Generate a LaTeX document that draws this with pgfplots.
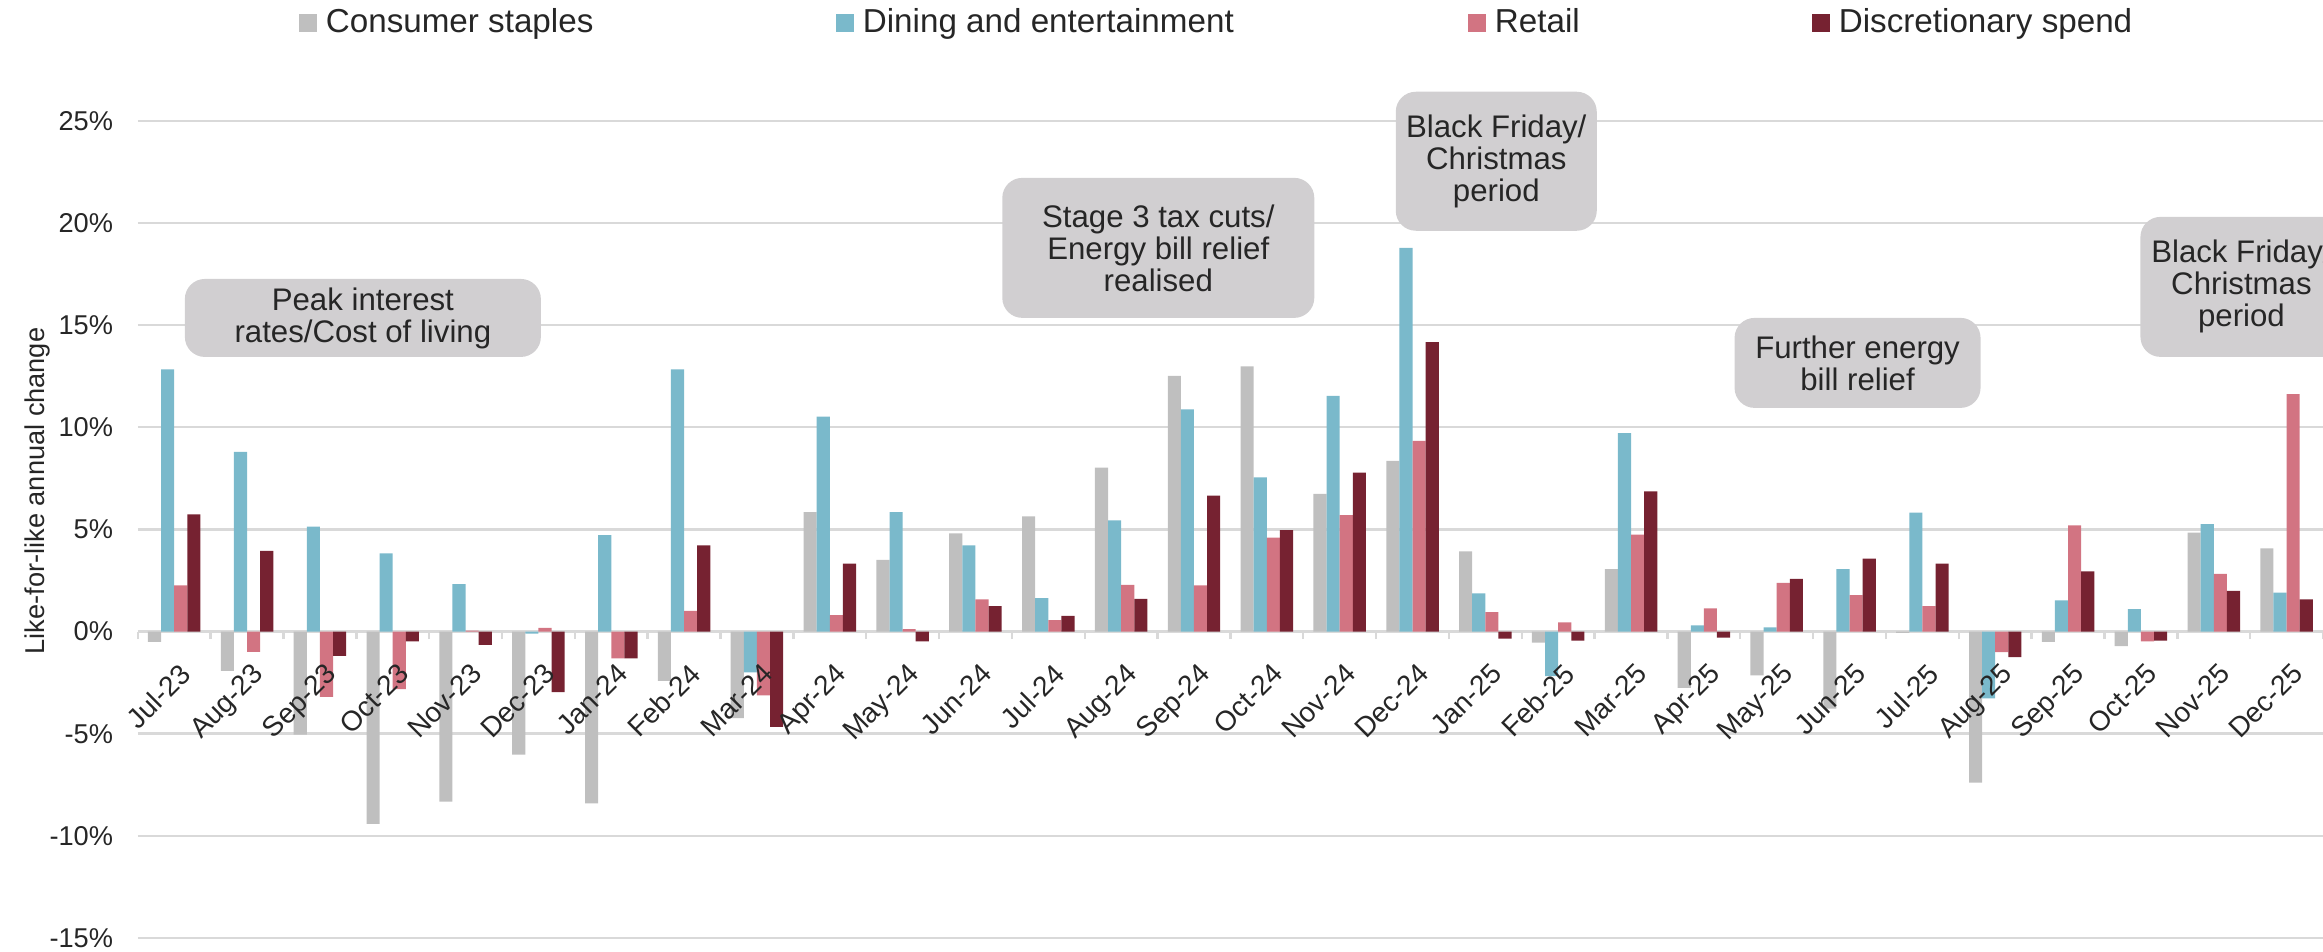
\documentclass[border=0pt]{standalone}
\usepackage{pgfplots}
\pgfplotsset{compat=1.18}
\usepackage{pgfplotstable}
\usepackage{fontspec}
\setmainfont{Liberation Sans}
\definecolor{cgrey}{HTML}{BFBFBF}
\definecolor{cblue}{HTML}{7AB9CB}
\definecolor{cpink}{HTML}{D27482}
\definecolor{cdark}{HTML}{762231}
\definecolor{gridc}{HTML}{D9D9D9}
\definecolor{boxc}{HTML}{D1CFD1}
\definecolor{txt}{HTML}{262626}

\pgfplotstableread{
idx grey blue pink dark
0 -0.50 12.83 2.26 5.73
1 -1.93 8.79 -1.00 3.95
2 -5.05 5.14 -3.20 -1.19
3 -9.42 3.83 -2.82 -0.48
4 -8.32 2.32 0.05 -0.65
5 -6.03 -0.10 0.18 -2.97
6 -8.41 4.72 -1.31 -1.31
7 -2.41 12.83 1.01 4.22
8 -4.24 -2.00 -3.13 -4.66
9 5.85 10.52 0.80 3.33
10 3.51 5.85 0.12 -0.48
11 4.81 4.22 1.57 1.25
12 5.64 1.63 0.56 0.77
13 8.02 5.44 2.29 1.60
14 12.51 10.87 2.26 6.65
15 12.98 7.55 4.60 4.96
16 6.74 11.53 5.70 7.78
17 8.35 18.78 9.33 14.17
18 3.92 1.87 0.95 -0.35
19 -0.54 -2.18 0.45 -0.45
20 3.06 9.71 4.75 6.86
21 -2.76 0.30 1.13 -0.30
22 -2.14 0.21 2.38 2.58
23 -3.77 3.06 1.78 3.57
24 -0.06 5.82 1.25 3.33
25 -7.40 -3.27 -1.01 -1.25
26 -0.50 1.52 5.20 2.94
27 -0.71 1.10 -0.48 -0.45
28 4.84 5.26 2.82 1.99
29 4.07 1.90 11.62 1.57
}\datatable

\newcommand{\xl}[2]{\node[xlab] at (axis cs:#1,0) {#2};}

\begin{document}
\begin{tikzpicture}
\begin{axis}[
  scale only axis, width=546.3pt, height=204.3pt,
  at={(0pt,0pt)}, anchor=south west,
  xmin=-0.5, xmax=29.5, ymin=-15, ymax=25,
  clip=false,
  ybar=0pt, bar width=3.28pt,
  axis x line*=middle, axis y line*=left,
  x axis line style={draw=gridc, line width=0.6pt},
  y axis line style={draw=none},
  xtick={0,...,29},
  xticklabels={},
  minor xtick={-0.5,0.5,...,29.5},
  major x tick style={draw=none},
  minor x tick style={draw=gridc, line width=0.6pt},
  minor tick length=1.9pt,
  tick align=outside,
  ytick={-15,-10,...,25},
  major y tick style={draw=none},
  major tick length=0pt,
  ymajorgrids,
  grid style={draw=gridc, line width=0.6pt},
  /pgf/number format/assume math mode=true,
  yticklabel={\pgfmathprintnumber{\tick}\%},
  yticklabel style={font=\fontsize{6.8}{8}\selectfont, text=txt, inner sep=0pt, anchor=east, xshift=-6pt},
  ylabel={Like-for-like annual change},
  ylabel style={at={(axis description cs:-0.0461,0.547)}, anchor=center, font=\fontsize{6.8}{8}\selectfont, text=txt},
  legend style={at={(rel axis cs:0.0738,1.1196)}, anchor=west, draw=none, fill=none, inner sep=0pt, outer sep=0pt,
    font=\fontsize{8.3}{10}\selectfont, text=txt, legend columns=4,
    nodes={inner sep=0pt},
    /tikz/every odd column/.style={column sep=2.3pt}},
  legend cell align=left,
  legend image code/.code={\fill[#1] (0pt,-2.2pt) rectangle (4.4pt,2.2pt);},
]
\addplot[fill=cgrey, draw=none] table[x=idx, y=grey] {\datatable};
\addlegendentry{\makebox[127.55pt][l]{Consumer staples}}
\addplot[fill=cblue, draw=none] table[x=idx, y=blue] {\datatable};
\addlegendentry{\makebox[151.3pt][l]{Dining and entertainment}}
\addplot[fill=cpink, draw=none] table[x=idx, y=pink] {\datatable};
\addlegendentry{\makebox[79.3pt][l]{Retail}}
\addplot[fill=cdark, draw=none] table[x=idx, y=dark] {\datatable};
\addlegendentry{Discretionary spend}

\tikzset{xlab/.style={xshift=1pt, yshift=-7.3pt, rotate=45, anchor=north east, inner sep=0pt, text=txt, font=\fontsize{7}{8}\selectfont}}
\xl{0}{Jul-23}\xl{1}{Aug-23}\xl{2}{Sep-23}\xl{3}{Oct-23}\xl{4}{Nov-23}\xl{5}{Dec-23}
\xl{6}{Jan-24}\xl{7}{Feb-24}\xl{8}{Mar-24}\xl{9}{Apr-24}\xl{10}{May-24}\xl{11}{Jun-24}
\xl{12}{Jul-24}\xl{13}{Aug-24}\xl{14}{Sep-24}\xl{15}{Oct-24}\xl{16}{Nov-24}\xl{17}{Dec-24}
\xl{18}{Jan-25}\xl{19}{Feb-25}\xl{20}{Mar-25}\xl{21}{Apr-25}\xl{22}{May-25}\xl{23}{Jun-25}
\xl{24}{Jul-25}\xl{25}{Aug-25}\xl{26}{Sep-25}\xl{27}{Oct-25}\xl{28}{Nov-25}\xl{29}{Dec-25}

\tikzset{annot/.style={fill=boxc, rounded corners=5pt, align=center, inner sep=0pt, text=txt, font=\fontsize{7.8}{8}\selectfont}}
\node[annot, minimum width=89pt, minimum height=19.5pt] at (axis cs:2.59,15.35) {Peak interest\\rates/Cost of living};
\node[annot, minimum width=78pt, minimum height=35pt] at (axis cs:13.51,18.78) {Stage 3 tax cuts/\\Energy bill relief\\realised};
\node[annot, minimum width=50.25pt, minimum height=34.75pt] at (axis cs:18.15,23.02) {Black Friday/\\Christmas\\period};
\node[annot, minimum width=61.5pt, minimum height=22.5pt] at (axis cs:23.11,13.15) {Further energy\\bill relief};
\node[annot, minimum width=50.5pt, minimum height=35pt] at (axis cs:28.38,16.87) {Black Friday/\\Christmas\\period};
\end{axis}
\pgfresetboundingbox
\path[use as bounding box] (-34.45pt,-3.5pt) rectangle (546.3pt,234.5pt);
\end{tikzpicture}
\end{document}
